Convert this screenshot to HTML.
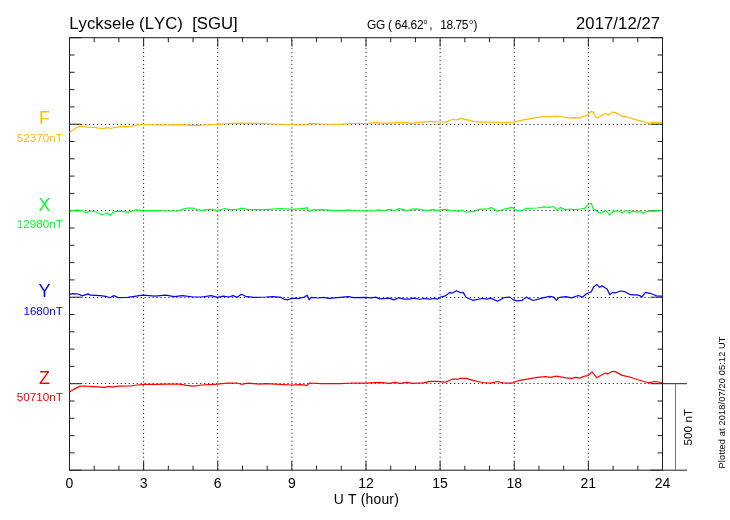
<!DOCTYPE html><html><head><meta charset="utf-8"><style>html,body{margin:0;padding:0;background:#fff;}svg{display:block;will-change:transform;}text{font-family:"Liberation Sans",sans-serif;font-kerning:none;}</style></head><body>
<svg width="730" height="520" viewBox="0 0 730 520">
<rect x="0" y="0" width="730" height="520" fill="#fff"/>
<line x1="143.62" y1="37.7" x2="143.62" y2="470.2" stroke="#333" stroke-width="1" stroke-dasharray="1.25 2.717" stroke-dashoffset="1.6"/>
<line x1="217.75" y1="37.7" x2="217.75" y2="470.2" stroke="#333" stroke-width="1" stroke-dasharray="1.25 2.717" stroke-dashoffset="1.6"/>
<line x1="291.88" y1="37.7" x2="291.88" y2="470.2" stroke="#333" stroke-width="1" stroke-dasharray="1.25 2.717" stroke-dashoffset="1.6"/>
<line x1="366.00" y1="37.7" x2="366.00" y2="470.2" stroke="#333" stroke-width="1" stroke-dasharray="1.25 2.717" stroke-dashoffset="1.6"/>
<line x1="440.12" y1="37.7" x2="440.12" y2="470.2" stroke="#333" stroke-width="1" stroke-dasharray="1.25 2.717" stroke-dashoffset="1.6"/>
<line x1="514.25" y1="37.7" x2="514.25" y2="470.2" stroke="#333" stroke-width="1" stroke-dasharray="1.25 2.717" stroke-dashoffset="1.6"/>
<line x1="588.38" y1="37.7" x2="588.38" y2="470.2" stroke="#333" stroke-width="1" stroke-dasharray="1.25 2.717" stroke-dashoffset="1.6"/>
<line x1="69.5" y1="124.50" x2="662.5" y2="124.50" stroke="#333" stroke-width="1" stroke-dasharray="1.25 2.717" stroke-dashoffset="0.3"/>
<line x1="69.5" y1="210.50" x2="662.5" y2="210.50" stroke="#333" stroke-width="1" stroke-dasharray="1.25 2.717" stroke-dashoffset="0.3"/>
<line x1="69.5" y1="297.50" x2="662.5" y2="297.50" stroke="#333" stroke-width="1" stroke-dasharray="1.25 2.717" stroke-dashoffset="0.3"/>
<line x1="69.5" y1="383.50" x2="662.5" y2="383.50" stroke="#333" stroke-width="1" stroke-dasharray="1.25 2.717" stroke-dashoffset="0.3"/>
<rect x="69.5" y="37.7" width="593.0" height="432.5" fill="none" stroke="#1a1a1a" stroke-width="1"/>
<line x1="69.50" y1="470.2" x2="69.50" y2="461.2" stroke="#222" stroke-width="1"/>
<line x1="69.50" y1="37.7" x2="69.50" y2="46.7" stroke="#222" stroke-width="1"/>
<line x1="94.21" y1="470.2" x2="94.21" y2="465.7" stroke="#222" stroke-width="1"/>
<line x1="94.21" y1="37.7" x2="94.21" y2="42.2" stroke="#222" stroke-width="1"/>
<line x1="118.92" y1="470.2" x2="118.92" y2="465.7" stroke="#222" stroke-width="1"/>
<line x1="118.92" y1="37.7" x2="118.92" y2="42.2" stroke="#222" stroke-width="1"/>
<line x1="143.62" y1="470.2" x2="143.62" y2="461.2" stroke="#222" stroke-width="1"/>
<line x1="143.62" y1="37.7" x2="143.62" y2="46.7" stroke="#222" stroke-width="1"/>
<line x1="168.33" y1="470.2" x2="168.33" y2="465.7" stroke="#222" stroke-width="1"/>
<line x1="168.33" y1="37.7" x2="168.33" y2="42.2" stroke="#222" stroke-width="1"/>
<line x1="193.04" y1="470.2" x2="193.04" y2="465.7" stroke="#222" stroke-width="1"/>
<line x1="193.04" y1="37.7" x2="193.04" y2="42.2" stroke="#222" stroke-width="1"/>
<line x1="217.75" y1="470.2" x2="217.75" y2="461.2" stroke="#222" stroke-width="1"/>
<line x1="217.75" y1="37.7" x2="217.75" y2="46.7" stroke="#222" stroke-width="1"/>
<line x1="242.46" y1="470.2" x2="242.46" y2="465.7" stroke="#222" stroke-width="1"/>
<line x1="242.46" y1="37.7" x2="242.46" y2="42.2" stroke="#222" stroke-width="1"/>
<line x1="267.17" y1="470.2" x2="267.17" y2="465.7" stroke="#222" stroke-width="1"/>
<line x1="267.17" y1="37.7" x2="267.17" y2="42.2" stroke="#222" stroke-width="1"/>
<line x1="291.88" y1="470.2" x2="291.88" y2="461.2" stroke="#222" stroke-width="1"/>
<line x1="291.88" y1="37.7" x2="291.88" y2="46.7" stroke="#222" stroke-width="1"/>
<line x1="316.58" y1="470.2" x2="316.58" y2="465.7" stroke="#222" stroke-width="1"/>
<line x1="316.58" y1="37.7" x2="316.58" y2="42.2" stroke="#222" stroke-width="1"/>
<line x1="341.29" y1="470.2" x2="341.29" y2="465.7" stroke="#222" stroke-width="1"/>
<line x1="341.29" y1="37.7" x2="341.29" y2="42.2" stroke="#222" stroke-width="1"/>
<line x1="366.00" y1="470.2" x2="366.00" y2="461.2" stroke="#222" stroke-width="1"/>
<line x1="366.00" y1="37.7" x2="366.00" y2="46.7" stroke="#222" stroke-width="1"/>
<line x1="390.71" y1="470.2" x2="390.71" y2="465.7" stroke="#222" stroke-width="1"/>
<line x1="390.71" y1="37.7" x2="390.71" y2="42.2" stroke="#222" stroke-width="1"/>
<line x1="415.42" y1="470.2" x2="415.42" y2="465.7" stroke="#222" stroke-width="1"/>
<line x1="415.42" y1="37.7" x2="415.42" y2="42.2" stroke="#222" stroke-width="1"/>
<line x1="440.12" y1="470.2" x2="440.12" y2="461.2" stroke="#222" stroke-width="1"/>
<line x1="440.12" y1="37.7" x2="440.12" y2="46.7" stroke="#222" stroke-width="1"/>
<line x1="464.83" y1="470.2" x2="464.83" y2="465.7" stroke="#222" stroke-width="1"/>
<line x1="464.83" y1="37.7" x2="464.83" y2="42.2" stroke="#222" stroke-width="1"/>
<line x1="489.54" y1="470.2" x2="489.54" y2="465.7" stroke="#222" stroke-width="1"/>
<line x1="489.54" y1="37.7" x2="489.54" y2="42.2" stroke="#222" stroke-width="1"/>
<line x1="514.25" y1="470.2" x2="514.25" y2="461.2" stroke="#222" stroke-width="1"/>
<line x1="514.25" y1="37.7" x2="514.25" y2="46.7" stroke="#222" stroke-width="1"/>
<line x1="538.96" y1="470.2" x2="538.96" y2="465.7" stroke="#222" stroke-width="1"/>
<line x1="538.96" y1="37.7" x2="538.96" y2="42.2" stroke="#222" stroke-width="1"/>
<line x1="563.67" y1="470.2" x2="563.67" y2="465.7" stroke="#222" stroke-width="1"/>
<line x1="563.67" y1="37.7" x2="563.67" y2="42.2" stroke="#222" stroke-width="1"/>
<line x1="588.38" y1="470.2" x2="588.38" y2="461.2" stroke="#222" stroke-width="1"/>
<line x1="588.38" y1="37.7" x2="588.38" y2="46.7" stroke="#222" stroke-width="1"/>
<line x1="613.08" y1="470.2" x2="613.08" y2="465.7" stroke="#222" stroke-width="1"/>
<line x1="613.08" y1="37.7" x2="613.08" y2="42.2" stroke="#222" stroke-width="1"/>
<line x1="637.79" y1="470.2" x2="637.79" y2="465.7" stroke="#222" stroke-width="1"/>
<line x1="637.79" y1="37.7" x2="637.79" y2="42.2" stroke="#222" stroke-width="1"/>
<line x1="662.50" y1="470.2" x2="662.50" y2="461.2" stroke="#222" stroke-width="1"/>
<line x1="662.50" y1="37.7" x2="662.50" y2="46.7" stroke="#222" stroke-width="1"/>
<line x1="69.5" y1="37.70" x2="81.5" y2="37.70" stroke="#222" stroke-width="1"/>
<line x1="662.5" y1="37.70" x2="650.5" y2="37.70" stroke="#222" stroke-width="1"/>
<line x1="69.5" y1="55.00" x2="74.5" y2="55.00" stroke="#222" stroke-width="1"/>
<line x1="662.5" y1="55.00" x2="657.5" y2="55.00" stroke="#222" stroke-width="1"/>
<line x1="69.5" y1="72.30" x2="74.5" y2="72.30" stroke="#222" stroke-width="1"/>
<line x1="662.5" y1="72.30" x2="657.5" y2="72.30" stroke="#222" stroke-width="1"/>
<line x1="69.5" y1="89.60" x2="74.5" y2="89.60" stroke="#222" stroke-width="1"/>
<line x1="662.5" y1="89.60" x2="657.5" y2="89.60" stroke="#222" stroke-width="1"/>
<line x1="69.5" y1="106.90" x2="74.5" y2="106.90" stroke="#222" stroke-width="1"/>
<line x1="662.5" y1="106.90" x2="657.5" y2="106.90" stroke="#222" stroke-width="1"/>
<line x1="69.5" y1="124.20" x2="81.5" y2="124.20" stroke="#222" stroke-width="1"/>
<line x1="662.5" y1="124.20" x2="650.5" y2="124.20" stroke="#222" stroke-width="1"/>
<line x1="69.5" y1="141.50" x2="74.5" y2="141.50" stroke="#222" stroke-width="1"/>
<line x1="662.5" y1="141.50" x2="657.5" y2="141.50" stroke="#222" stroke-width="1"/>
<line x1="69.5" y1="158.80" x2="74.5" y2="158.80" stroke="#222" stroke-width="1"/>
<line x1="662.5" y1="158.80" x2="657.5" y2="158.80" stroke="#222" stroke-width="1"/>
<line x1="69.5" y1="176.10" x2="74.5" y2="176.10" stroke="#222" stroke-width="1"/>
<line x1="662.5" y1="176.10" x2="657.5" y2="176.10" stroke="#222" stroke-width="1"/>
<line x1="69.5" y1="193.40" x2="74.5" y2="193.40" stroke="#222" stroke-width="1"/>
<line x1="662.5" y1="193.40" x2="657.5" y2="193.40" stroke="#222" stroke-width="1"/>
<line x1="69.5" y1="210.70" x2="81.5" y2="210.70" stroke="#222" stroke-width="1"/>
<line x1="662.5" y1="210.70" x2="650.5" y2="210.70" stroke="#222" stroke-width="1"/>
<line x1="69.5" y1="228.00" x2="74.5" y2="228.00" stroke="#222" stroke-width="1"/>
<line x1="662.5" y1="228.00" x2="657.5" y2="228.00" stroke="#222" stroke-width="1"/>
<line x1="69.5" y1="245.30" x2="74.5" y2="245.30" stroke="#222" stroke-width="1"/>
<line x1="662.5" y1="245.30" x2="657.5" y2="245.30" stroke="#222" stroke-width="1"/>
<line x1="69.5" y1="262.60" x2="74.5" y2="262.60" stroke="#222" stroke-width="1"/>
<line x1="662.5" y1="262.60" x2="657.5" y2="262.60" stroke="#222" stroke-width="1"/>
<line x1="69.5" y1="279.90" x2="74.5" y2="279.90" stroke="#222" stroke-width="1"/>
<line x1="662.5" y1="279.90" x2="657.5" y2="279.90" stroke="#222" stroke-width="1"/>
<line x1="69.5" y1="297.20" x2="81.5" y2="297.20" stroke="#222" stroke-width="1"/>
<line x1="662.5" y1="297.20" x2="650.5" y2="297.20" stroke="#222" stroke-width="1"/>
<line x1="69.5" y1="314.50" x2="74.5" y2="314.50" stroke="#222" stroke-width="1"/>
<line x1="662.5" y1="314.50" x2="657.5" y2="314.50" stroke="#222" stroke-width="1"/>
<line x1="69.5" y1="331.80" x2="74.5" y2="331.80" stroke="#222" stroke-width="1"/>
<line x1="662.5" y1="331.80" x2="657.5" y2="331.80" stroke="#222" stroke-width="1"/>
<line x1="69.5" y1="349.10" x2="74.5" y2="349.10" stroke="#222" stroke-width="1"/>
<line x1="662.5" y1="349.10" x2="657.5" y2="349.10" stroke="#222" stroke-width="1"/>
<line x1="69.5" y1="366.40" x2="74.5" y2="366.40" stroke="#222" stroke-width="1"/>
<line x1="662.5" y1="366.40" x2="657.5" y2="366.40" stroke="#222" stroke-width="1"/>
<line x1="69.5" y1="383.70" x2="81.5" y2="383.70" stroke="#222" stroke-width="1"/>
<line x1="662.5" y1="383.70" x2="650.5" y2="383.70" stroke="#222" stroke-width="1"/>
<line x1="69.5" y1="401.00" x2="74.5" y2="401.00" stroke="#222" stroke-width="1"/>
<line x1="662.5" y1="401.00" x2="657.5" y2="401.00" stroke="#222" stroke-width="1"/>
<line x1="69.5" y1="418.30" x2="74.5" y2="418.30" stroke="#222" stroke-width="1"/>
<line x1="662.5" y1="418.30" x2="657.5" y2="418.30" stroke="#222" stroke-width="1"/>
<line x1="69.5" y1="435.60" x2="74.5" y2="435.60" stroke="#222" stroke-width="1"/>
<line x1="662.5" y1="435.60" x2="657.5" y2="435.60" stroke="#222" stroke-width="1"/>
<line x1="69.5" y1="452.90" x2="74.5" y2="452.90" stroke="#222" stroke-width="1"/>
<line x1="662.5" y1="452.90" x2="657.5" y2="452.90" stroke="#222" stroke-width="1"/>
<line x1="69.5" y1="470.20" x2="81.5" y2="470.20" stroke="#222" stroke-width="1"/>
<line x1="662.5" y1="470.20" x2="650.5" y2="470.20" stroke="#222" stroke-width="1"/>
<line x1="662.5" y1="383.70" x2="687" y2="383.70" stroke="#222" stroke-width="1"/>
<line x1="662.5" y1="470.2" x2="687" y2="470.2" stroke="#222" stroke-width="1"/>
<line x1="675.5" y1="383.70" x2="675.5" y2="470.2" stroke="#777" stroke-width="1"/>
<text x="69.3" y="28.6" font-size="16.75" fill="#000" xml:space="preserve">Lycksele (LYC)  [SGU]</text>
<text x="576" y="28.6" font-size="16.6" fill="#000" textLength="84" lengthAdjust="spacing">2017/12/27</text>
<text x="367" y="28.9" font-size="11.9" fill="#000" xml:space="preserve" textLength="56.6" lengthAdjust="spacing">GG ( 64.62</text>
<text x="423.6" y="24.1" font-size="6.8" fill="#000">o</text>
<text x="429.3" y="28.9" font-size="11.9" fill="#000">,</text>
<text x="440.3" y="28.9" font-size="11.9" fill="#000" textLength="28" lengthAdjust="spacing">18.75</text>
<text x="469.2" y="24.1" font-size="6.8" fill="#000">o</text>
<text x="473.6" y="28.9" font-size="11.9" fill="#000">)</text>
<text x="69.50" y="488.2" font-size="14" fill="#000" text-anchor="middle">0</text>
<text x="143.62" y="488.2" font-size="14" fill="#000" text-anchor="middle">3</text>
<text x="217.75" y="488.2" font-size="14" fill="#000" text-anchor="middle">6</text>
<text x="291.88" y="488.2" font-size="14" fill="#000" text-anchor="middle">9</text>
<text x="366.00" y="488.2" font-size="14" fill="#000" text-anchor="middle">12</text>
<text x="440.12" y="488.2" font-size="14" fill="#000" text-anchor="middle">15</text>
<text x="514.25" y="488.2" font-size="14" fill="#000" text-anchor="middle">18</text>
<text x="588.38" y="488.2" font-size="14" fill="#000" text-anchor="middle">21</text>
<text x="662.50" y="488.2" font-size="14" fill="#000" text-anchor="middle">24</text>
<text x="333.8" y="503.9" font-size="13.9" fill="#000" xml:space="preserve" textLength="65" lengthAdjust="spacing">U T (hour)</text>
<text transform="translate(692.1,427.2) rotate(-90)" font-size="11.6" fill="#000" text-anchor="middle" textLength="36.6" lengthAdjust="spacing">500 nT</text>
<text transform="translate(725,468.5) rotate(-90)" font-size="9.2" fill="#000" textLength="132" lengthAdjust="spacing">Plotted at 2018/07/20 05:12 UT</text>
<text x="44.5" y="124" font-size="18" fill="#ffbc00" text-anchor="middle">F</text>
<text x="16.8" y="142.4" font-size="11.3" fill="#ffbc00" textLength="46.2" lengthAdjust="spacingAndGlyphs">52370nT</text>
<text x="44.5" y="211" font-size="18" fill="#00ff28" text-anchor="middle">X</text>
<text x="16.8" y="228.4" font-size="11.3" fill="#00ff28" textLength="46.2" lengthAdjust="spacingAndGlyphs">12980nT</text>
<text x="44.5" y="297" font-size="18" fill="#0000ff" text-anchor="middle">Y</text>
<text x="23.4" y="315.4" font-size="11.3" fill="#0000ff" textLength="39.6" lengthAdjust="spacingAndGlyphs">1680nT</text>
<text x="44.5" y="384" font-size="18" fill="#ff0000" text-anchor="middle">Z</text>
<text x="16.8" y="401.4" font-size="11.3" fill="#ff0000" textLength="46.2" lengthAdjust="spacingAndGlyphs">50710nT</text>
<path d="M69.3,132.3 L73.7,129.8 L78.0,126.8 L80.2,126.3 L83.5,126.7 L87.9,127.1 L94.5,127.3 L98.9,128.2 L103.3,128.5 L108.2,127.4 L110.4,128.5 L115.3,127.3 L120.8,126.6 L127.4,126.6 L131.8,126.0 L137.2,124.9 L146.0,124.5 L160.5,125.0 L181.0,124.6 L194.8,125.7 L204.4,125.0 L216.7,124.3 L229.0,123.5 L240.0,123.2 L256.4,123.4 L274.2,124.0 L290.7,124.6 L301.6,125.0 L307.0,124.7 L310.0,123.4 L322.0,124.0 L340.0,124.3 L353.7,123.5 L367.4,123.5 L377.0,122.4 L383.8,123.3 L394.8,122.7 L404.4,122.4 L412.6,123.3 L419.5,122.4 L430.4,121.4 L440.0,122.0 L445.5,122.1 L453.0,119.3 L456.4,120.0 L461.2,118.4 L467.4,119.8 L472.9,121.4 L481.1,122.2 L494.8,122.1 L504.4,122.8 L514.0,122.2 L522.2,120.2 L530.4,118.7 L540.0,117.2 L545.1,116.3 L550.3,116.8 L555.4,116.2 L560.5,116.5 L569.1,118.2 L575.0,117.7 L579.1,118.1 L583.2,116.5 L587.7,115.3 L589.8,112.4 L591.8,111.2 L593.5,112.8 L595.1,116.1 L597.2,118.0 L601.3,115.7 L605.4,113.5 L608.3,115.1 L612.8,112.2 L616.1,112.8 L622.7,116.7 L625.1,116.3 L629.2,117.7 L634.6,119.4 L641.0,121.1 L647.9,123.3 L653.0,122.3 L661.9,122.5" fill="none" stroke="#ffbc00" stroke-width="1.2" stroke-linejoin="round"/>
<path d="M69.4,211.0 L77.0,210.0 L82.4,210.7 L86.5,212.7 L90.0,211.0 L96.1,212.0 L102.3,214.7 L107.1,213.0 L110.5,215.3 L113.3,212.0 L118.0,211.2 L123.5,211.6 L129.0,212.3 L133.1,210.7 L137.2,209.9 L142.7,210.7 L155.0,210.5 L166.0,211.0 L178.3,211.0 L183.8,208.9 L187.9,208.0 L193.4,208.2 L197.5,209.9 L201.6,210.3 L207.1,209.6 L212.6,209.3 L217.4,210.7 L224.9,208.5 L230.4,209.9 L237.2,209.3 L242.0,208.2 L248.2,209.6 L256.4,209.6 L266.0,209.6 L281.1,208.5 L293.4,209.3 L305.7,208.2 L307.1,207.5 L309.2,211.6 L312.6,209.9 L323.5,209.6 L334.5,210.7 L342.7,210.7 L349.6,209.9 L355.0,211.0 L366.0,210.5 L372.8,211.0 L378.3,209.9 L383.8,210.7 L390.7,209.3 L394.8,210.7 L398.9,208.6 L407.1,210.7 L411.2,209.2 L416.7,208.9 L422.2,209.9 L427.6,210.3 L433.1,209.6 L437.2,210.3 L445.5,209.3 L450.9,210.7 L459.2,211.2 L462.6,210.3 L466.0,212.0 L472.8,211.7 L479.7,209.2 L486.5,209.2 L491.3,207.6 L497.5,211.3 L504.4,209.2 L511.9,207.3 L517.4,211.0 L523.5,210.1 L526.3,208.3 L537.2,208.0 L544.1,206.9 L549.6,207.3 L553.7,206.5 L557.1,210.1 L560.5,207.6 L566.0,209.9 L570.1,209.0 L574.2,209.7 L581.1,209.0 L585.2,208.1 L587.2,205.6 L589.3,203.5 L591.3,203.5 L593.4,209.0 L596.1,210.4 L600.2,213.5 L605.7,210.4 L609.8,215.2 L613.3,211.1 L617.4,210.8 L622.2,212.7 L625.6,210.4 L629.0,213.1 L633.1,211.1 L637.2,212.2 L640.7,210.8 L643.4,213.5 L646.8,211.3 L661.9,210.7" fill="none" stroke="#00ff28" stroke-width="1.2" stroke-linejoin="round"/>
<path d="M69.4,294.3 L72.8,293.6 L78.3,294.0 L82.4,295.9 L87.9,293.9 L90.7,295.2 L100.2,295.6 L105.7,296.3 L109.8,297.7 L113.9,295.6 L118.7,297.7 L127.6,297.3 L134.5,296.3 L142.7,295.2 L155.0,296.1 L166.0,295.2 L174.2,296.6 L182.4,295.6 L193.4,297.0 L201.6,297.0 L211.2,295.6 L217.4,297.4 L223.5,296.1 L229.0,297.0 L233.1,295.6 L237.2,297.3 L241.3,294.3 L245.5,296.3 L253.7,297.3 L266.0,297.0 L272.8,296.6 L281.1,297.4 L283.8,299.1 L287.9,299.8 L292.0,298.4 L298.9,298.4 L304.4,297.0 L307.1,295.2 L309.2,299.8 L311.2,297.3 L318.1,298.0 L323.5,297.3 L329.0,298.4 L337.2,297.7 L348.2,296.6 L353.7,297.7 L366.0,297.4 L371.5,297.8 L375.6,297.1 L379.7,298.9 L389.3,298.1 L394.1,299.9 L398.9,297.8 L404.4,299.2 L409.8,299.2 L412.6,298.1 L416.7,298.5 L419.4,299.5 L423.5,298.5 L430.4,299.2 L434.5,298.5 L437.2,299.2 L440.7,297.1 L445.5,295.8 L449.6,292.6 L452.3,293.0 L456.4,290.7 L459.8,292.3 L463.3,292.6 L466.0,297.3 L472.8,300.3 L482.4,298.5 L486.5,299.2 L490.7,298.1 L497.5,301.2 L504.4,297.5 L509.8,297.1 L513.3,299.9 L516.7,300.8 L522.2,300.3 L526.3,297.1 L533.1,300.5 L542.7,297.8 L550.2,296.4 L553.7,297.1 L556.4,300.3 L559.2,297.4 L566.0,296.6 L571.5,297.9 L578.3,295.5 L582.4,297.2 L586.5,293.8 L591.3,291.7 L593.4,287.3 L596.8,284.4 L599.6,287.3 L602.3,285.9 L605.7,288.3 L607.1,289.0 L609.8,294.7 L612.6,292.4 L615.3,292.8 L620.8,291.0 L624.9,291.7 L630.4,294.7 L638.6,295.1 L642.0,296.9 L645.5,292.4 L650.2,293.3 L656.4,295.8 L661.9,296.1" fill="none" stroke="#0000ff" stroke-width="1.2" stroke-linejoin="round"/>
<path d="M69.4,392.3 L74.2,389.1 L79.7,386.4 L83.8,386.0 L93.4,386.7 L104.4,387.3 L108.5,386.4 L112.6,387.1 L118.1,386.1 L130.4,386.0 L137.2,385.0 L144.1,384.3 L155.0,384.3 L166.0,384.2 L179.7,384.1 L186.5,385.3 L193.4,386.1 L201.6,385.0 L209.8,384.6 L217.4,384.1 L227.6,383.2 L237.2,383.0 L241.3,384.3 L248.2,383.2 L259.2,384.1 L266.0,383.6 L279.7,384.3 L291.3,385.0 L300.2,384.6 L307.1,385.4 L309.8,383.0 L320.8,383.6 L340.0,383.6 L353.7,383.0 L366.0,383.1 L379.7,382.4 L389.3,383.3 L394.8,382.4 L400.2,383.3 L407.1,382.4 L412.6,383.3 L423.5,382.8 L430.4,381.4 L437.2,381.4 L445.5,382.1 L452.3,379.2 L457.8,379.2 L460.5,378.3 L466.0,378.4 L472.8,380.4 L482.4,382.5 L490.7,383.2 L497.5,381.5 L503.0,382.9 L511.2,383.2 L518.1,380.7 L527.6,379.1 L537.2,377.4 L545.5,376.6 L550.9,377.4 L556.4,376.1 L566.0,377.8 L571.5,378.4 L575.6,377.3 L579.7,378.2 L583.8,376.4 L587.9,375.7 L592.0,371.9 L594.1,374.3 L596.8,377.8 L601.6,375.0 L605.7,373.0 L607.8,374.1 L612.6,371.3 L615.3,371.6 L622.2,375.4 L629.0,376.8 L637.2,379.5 L648.2,382.8 L655.0,381.5 L661.9,382.5" fill="none" stroke="#ff0000" stroke-width="1.2" stroke-linejoin="round"/>
</svg></body></html>
